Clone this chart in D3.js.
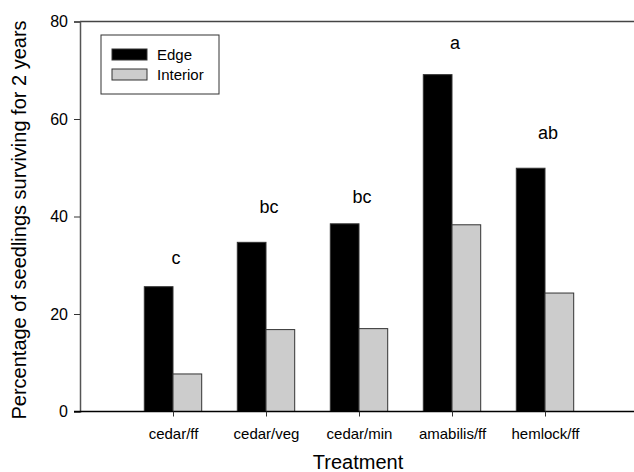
<!DOCTYPE html>
<html>
<head>
<meta charset="utf-8">
<script src="https://cdn.jsdelivr.net/npm/d3@7"></script>
<style>
  body { margin: 0; background: #fff; }
  svg { display: block; font-family: Arial, "Liberation Sans", sans-serif; }
</style>
</head>
<body>
<div id="chart"></div>
<script>
// data
var treatments = ["cedar/ff", "cedar/veg", "cedar/min", "amabilis/ff", "hemlock/ff"];
var edgeValues = [25.6, 34.7, 38.5, 69.1, 49.9];
var interiorValues = [7.7, 16.8, 17.0, 38.3, 24.3];
var groupLetters = ["c", "bc", "bc", "a", "ab"];
var letterHeights = [30.3, 40.7, 42.8, 74.4, 55.9];
var yTicks = [0, 20, 40, 60, 80];
var seriesNames = ["Edge", "Interior"];
var seriesColors = ["#000000", "#cccccc"];

var width = 634, height = 472;

var svg = d3.select("#chart")
    .append("svg")
    .attr("width", width)
    .attr("height", height);

// positions 1..5 on a 0..6 scale, leaves an empty slot on each side
var x = d3.scaleLinear().domain([0, 6]).range([80, 638]);
var y = d3.scaleLinear().domain([0, 80]).range([411.5, 21.5]);
var barW = 28.7;

var rows = treatments.map(function (t, i) {
    return {name: t, pos: i + 1, values: [edgeValues[i], interiorValues[i]]};
});

// frame top line
svg.append("line")
    .attr("x1", x(0)).attr("x2", x(6))
    .attr("y1", y(80)).attr("y2", y(80))
    .attr("stroke", "#444").attr("stroke-width", 1.3);

// bars
var groups = svg.append("g").selectAll("g")
    .data(rows)
    .join("g");

groups.selectAll("rect")
    .data(function (d) { return d.values.map(function (v, k) { return {pos: d.pos, v: v, k: k}; }); })
    .join("rect")
    .attr("x", function (d) { return x(d.pos) - barW + d.k * barW; })
    .attr("y", function (d) { return y(d.v); })
    .attr("width", barW)
    .attr("height", function (d) { return y(0) - y(d.v); })
    .attr("fill", function (d) { return seriesColors[d.k]; })
    .attr("stroke", "#333")
    .attr("stroke-width", 1);

// significance letters
svg.append("g").selectAll("text")
    .data(rows)
    .join("text")
    .attr("x", function (d) { return x(d.pos) + 3; })
    .attr("y", function (d, i) { return y(letterHeights[i]); })
    .attr("text-anchor", "middle")
    .attr("font-size", 18)
    .text(function (d, i) { return groupLetters[i]; });

// y axis
var yAxis = svg.append("g")
    .attr("transform", "translate(" + x(0) + ",0)")
    .call(d3.axisLeft(y).tickValues(yTicks).tickSize(6).tickPadding(6));
yAxis.select(".domain").attr("stroke", "#555").attr("stroke-width", 1.5);
yAxis.selectAll(".tick line").attr("stroke", "#333");
yAxis.selectAll(".tick text").attr("font-size", 16).attr("fill", "#000").attr("font-family", null);

// x axis
var xAxis = svg.append("g")
    .attr("transform", "translate(0," + y(0) + ")")
    .call(d3.axisBottom(x).tickValues(rows.map(function (d) { return d.pos; }))
        .tickFormat(function (p) { return treatments[p - 1]; })
        .tickSize(5).tickSizeOuter(0).tickPadding(12));
xAxis.select(".domain").attr("stroke", "#000").attr("stroke-width", 1.5)
    .attr("d", "M" + (x(0) - 6) + ",0H" + x(6));
xAxis.selectAll(".tick line").attr("stroke", "#333");
xAxis.selectAll(".tick text").attr("font-size", 15).attr("fill", "#000").attr("font-family", null);

// axis titles
svg.append("text")
    .attr("x", 358).attr("y", 469)
    .attr("text-anchor", "middle")
    .attr("font-size", 20)
    .text("Treatment");

svg.append("text")
    .attr("transform", "translate(26," + 220 + ") rotate(-90)")
    .attr("text-anchor", "middle")
    .attr("font-size", 20)
    .text("Percentage of seedlings surviving for 2 years");

// legend
var legend = svg.append("g").attr("transform", "translate(101,35)");
legend.append("rect")
    .attr("width", 118).attr("height", 59)
    .attr("fill", "#fff").attr("stroke", "#333").attr("stroke-width", 1);
var items = legend.selectAll("g.item")
    .data(seriesNames)
    .join("g")
    .attr("class", "item")
    .attr("transform", function (d, i) { return "translate(11," + (14 + i * 20) + ")"; });
items.append("rect")
    .attr("width", 35).attr("height", 11)
    .attr("fill", function (d, i) { return seriesColors[i]; })
    .attr("stroke", "#333").attr("stroke-width", 1);
items.append("text")
    .attr("x", 45).attr("y", 11)
    .attr("font-size", 15)
    .text(function (d) { return d; });
</script>
</body>
</html>
